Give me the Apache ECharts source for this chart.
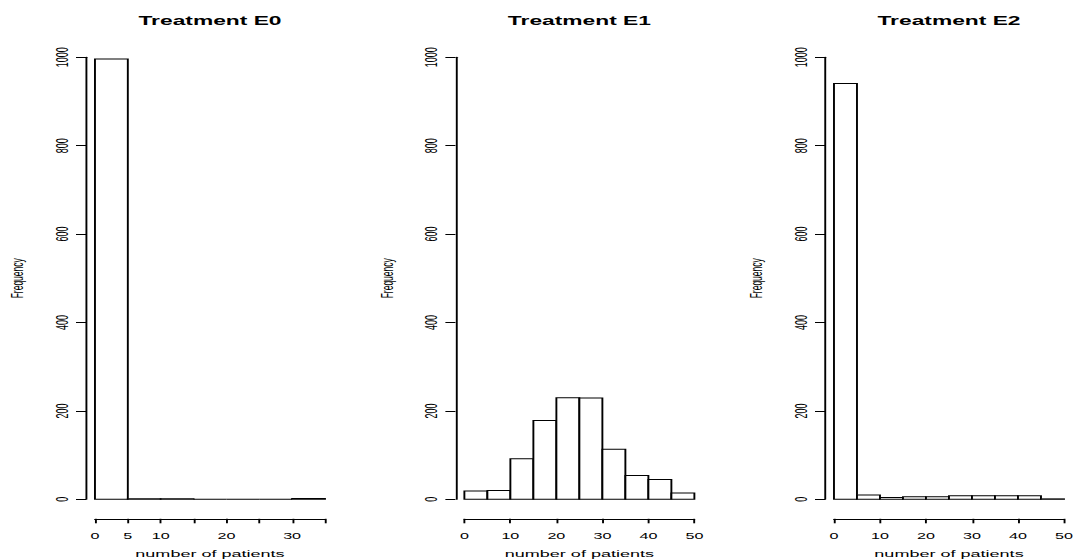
<!DOCTYPE html>
<html>
<head>
<meta charset="utf-8">
<script src="https://cdn.jsdelivr.net/npm/echarts@6/dist/echarts.min.js"></script>
<style>
  html, body { margin: 0; padding: 0; background: #fff; }
  #wrap { width: 1075px; height: 560px; overflow: hidden; background: #fff; }
  #chart { width: 566px; height: 560px; transform: scaleX(1.89929); transform-origin: 0 0; }
</style>
</head>
<body>
<div id="wrap"><div id="chart"></div></div>
<script>
// ---- data ----
const titles = ['Treatment E0', 'Treatment E1', 'Treatment E2'];
const breaksE0 = [0, 5, 10, 15, 20, 25, 30, 35];
const countsE0 = [996, 1, 1, 0, 0, 0, 2];
const breaksE1 = [0, 5, 10, 15, 20, 25, 30, 35, 40, 45, 50];
const countsE1 = [19, 20, 92, 178, 230, 229, 113, 54, 45, 14];
const breaksE2 = [0, 5, 10, 15, 20, 25, 30, 35, 40, 45, 50];
const countsE2 = [941, 10, 4, 6, 6, 8, 8, 8, 8, 1];
const xTicksE0 = ['0', '5', '10', '', '20', '', '30', ''];
const xTicksE1 = ['0', '10', '20', '30', '40', '50'];
const xTicksE2 = ['0', '10', '20', '30', '40', '50'];
const yTicks = ['0', '200', '400', '600', '800', '1000'];
const xName = 'number of patients';
const yName = 'Frequency';

// ---- layout ----
const panels = [
  { breaks: breaksE0, counts: countsE0, xTicks: xTicksE0, xMax: 35, xInt: 5, left: 50.0 },
  { breaks: breaksE1, counts: countsE1, xTicks: xTicksE1, xMax: 50, xInt: 10, left: 244.5 },
  { breaks: breaksE2, counts: countsE2, xTicks: xTicksE2, xMax: 50, xInt: 10, left: 439.1 }
];
const plotW = 121.1;
const FONT = '"Liberation Sans", Arial, Helvetica, sans-serif';

function histData(breaks, counts) {
  return counts.map((c, i) => [breaks[i], breaks[i + 1], c]);
}

function renderItem(params, api) {
  const p0 = api.coord([api.value(0), api.value(2)]);
  const p1 = api.coord([api.value(1), 0]);
  return {
    type: 'rect',
    shape: { x: p0[0], y: p0[1], width: p1[0] - p0[0], height: p1[1] - p0[1] },
    style: { fill: '#ffffff', stroke: '#000000', lineWidth: 1 }
  };
}

const option = {
  backgroundColor: '#ffffff',
  animation: false,
  title: panels.map((p, i) => ({
    text: titles[i],
    left: p.left + plotW / 2,
    top: 15,
    padding: 0,
    textAlign: 'center',
    textStyle: { fontFamily: FONT, fontSize: 12, fontWeight: 'bold', color: '#000' }
  })),
  grid: panels.map(p => ({
    left: p.left, width: plotW, top: 57.3, height: 442,
    containLabel: false, outerBoundsMode: 'none'
  })),
  xAxis: panels.map((p, i) => ({
    type: 'value', gridIndex: i, min: 0, max: p.xMax, interval: p.xInt,
    offset: 19.5,
    name: xName, nameLocation: 'middle', nameGap: 30,
    nameTextStyle: { fontFamily: FONT, fontSize: 9.5, color: '#000' },
    axisLine: { show: true, onZero: false, lineStyle: { color: '#000', width: 1 } },
    axisTick: { show: true, length: 4.5, lineStyle: { color: '#000', width: 1 } },
    axisLabel: {
      show: true, fontFamily: FONT, fontSize: 8.5, color: '#000', margin: 12.5,
      showMinLabel: true, showMaxLabel: true, hideOverlap: false,
      formatter: (v) => p.xTicks[Math.round(v / p.xInt)] ?? ''
    },
    splitLine: { show: false }
  })),
  yAxis: panels.map((p, i) => ({
    type: 'value', gridIndex: i, min: 0, max: 1000, interval: 200,
    offset: 4.7,
    name: yName, nameLocation: 'middle', nameGap: 31.5, nameRotate: 90,
    nameTextStyle: { fontFamily: FONT, fontSize: 8.5, color: '#000' },
    axisLine: { show: true, onZero: false, lineStyle: { color: '#000', width: 1 } },
    axisTick: { show: true, length: 5.3, lineStyle: { color: '#000', width: 1 } },
    axisLabel: {
      show: true, rotate: 90, fontFamily: FONT, fontSize: 9, color: '#000', margin: 8,
      formatter: (v) => yTicks[Math.round(v / 200)] ?? ''
    },
    splitLine: { show: false }
  })),
  series: panels.map((p, i) => ({
    type: 'custom', xAxisIndex: i, yAxisIndex: i,
    renderItem: renderItem,
    encode: { x: [0, 1], y: 2 },
    data: histData(p.breaks, p.counts),
    clip: false
  }))
};

const chart = echarts.init(document.getElementById('chart'), null, { renderer: 'svg' });
chart.setOption(option);
</script>
</body>
</html>
